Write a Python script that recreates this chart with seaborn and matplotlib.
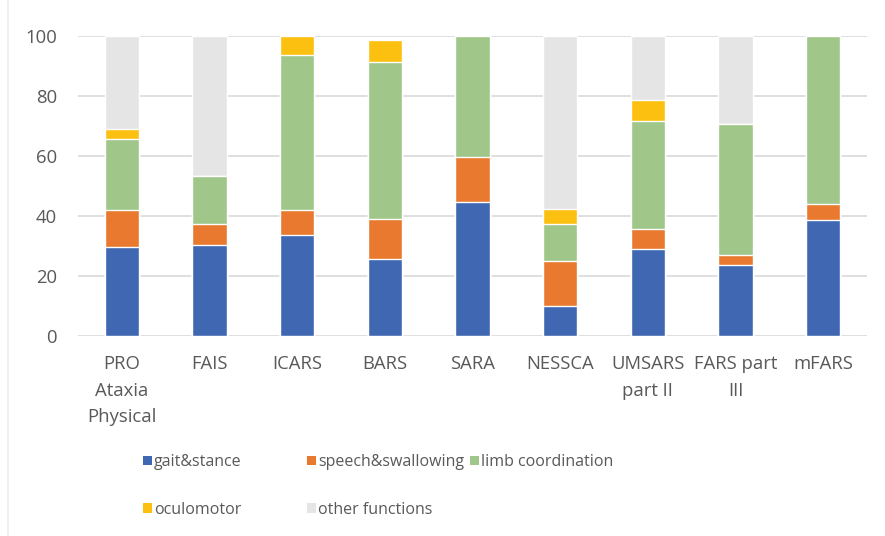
import numpy as np
import pandas as pd
import seaborn as sns
import matplotlib
matplotlib.use("Agg")
import matplotlib.pyplot as plt
from matplotlib.patches import Patch
from matplotlib.lines import Line2D

sns.set_style("white")
plt.rcParams['font.family'] = ['Open Sans', 'DejaVu Sans']

categories = ["PRO\nAtaxia\nPhysical", "FAIS", "ICARS", "BARS", "SARA",
              "NESSCA", "UMSARS\npart II", "FARS part\nIII", "mFARS"]
gait_stance = [29.6, 30.4, 33.7, 25.8, 44.7, 10.0, 28.9, 23.7, 38.7]
speech_swallowing = [12.4, 6.9, 8.3, 13.1, 15.1, 15.1, 6.8, 3.3, 5.3]
limb_coordination = [23.6, 16.1, 51.7, 52.5, 40.2, 12.2, 36.1, 43.7, 56.0]
oculomotor = [3.3, 0.0, 6.3, 7.3, 0.0, 5.1, 6.8, 0.0, 0.0]
other_functions = [31.1, 46.6, 0.0, 0.0, 0.0, 57.6, 21.4, 29.3, 0.0]

series_names = ["gait&stance", "speech&swallowing", "limb coordination",
                "oculomotor", "other functions"]
series_values = [gait_stance, speech_swallowing, limb_coordination,
                 oculomotor, other_functions]
colors = ["#4068B2", "#E8792F", "#A0C68A", "#FCC010", "#E5E5E5"]

df = pd.DataFrame({"category": categories})
for name, vals in zip(series_names, series_values):
    df[name] = vals
cum = df[series_names].cumsum(axis=1)

fig = plt.figure(figsize=(8.85, 5.36), dpi=100)
ax = fig.add_axes([78 / 885, 1 - 336 / 536, (867 - 78) / 885, 300 / 536])

# draw stacked bars from top layer down
for name, color in reversed(list(zip(series_names, colors))):
    d = pd.DataFrame({"category": categories, "value": cum[name]})
    sns.barplot(data=d, x="category", y="value", color=color, saturation=1,
                width=0.39, ax=ax, order=categories, errorbar=None, zorder=2)

ax.set_ylim(0, 100)
ax.set_xlim(-0.5, len(categories) - 0.5)
ax.set_yticks(np.arange(0, 101, 20))
ax.yaxis.grid(True, color="#D9D9D9", linewidth=1.2)
ax.set_axisbelow(True)
for s in ax.spines.values():
    s.set_visible(False)
ax.set_xlabel("")
ax.set_ylabel("")
ax.tick_params(axis="both", length=0, colors="#595959", labelsize=13.3)
ax.tick_params(axis="y", pad=15)
ax.tick_params(axis="x", pad=14)
for lbl in ax.get_xticklabels():
    lbl.set_linespacing(1.6)

handles = [Patch(facecolor=c, edgecolor="none", label=n)
           for n, c in zip(series_names, colors)]
cols = [([handles[0], handles[3]], 143), ([handles[1], handles[4]], 307), ([handles[2]], 470)]
for hs, x in cols:
    leg = fig.legend(handles=hs, loc="upper left", bbox_to_anchor=(x / 885, 1 - 454 / 536),
                     frameon=False, fontsize=11.5, borderpad=0, borderaxespad=0,
                     handlelength=0.55, handleheight=0.55, handletextpad=0.15,
                     labelspacing=2.0)
    for t in leg.get_texts():
        t.set_color("#595959")

# faint chart-area frame edge on the left, as in the reference
fig.add_artist(Line2D([8 / 885, 8 / 885], [0, 1], transform=fig.transFigure,
                      color="#ECECEC", linewidth=1.2))

fig.savefig("out.png", dpi=100)
